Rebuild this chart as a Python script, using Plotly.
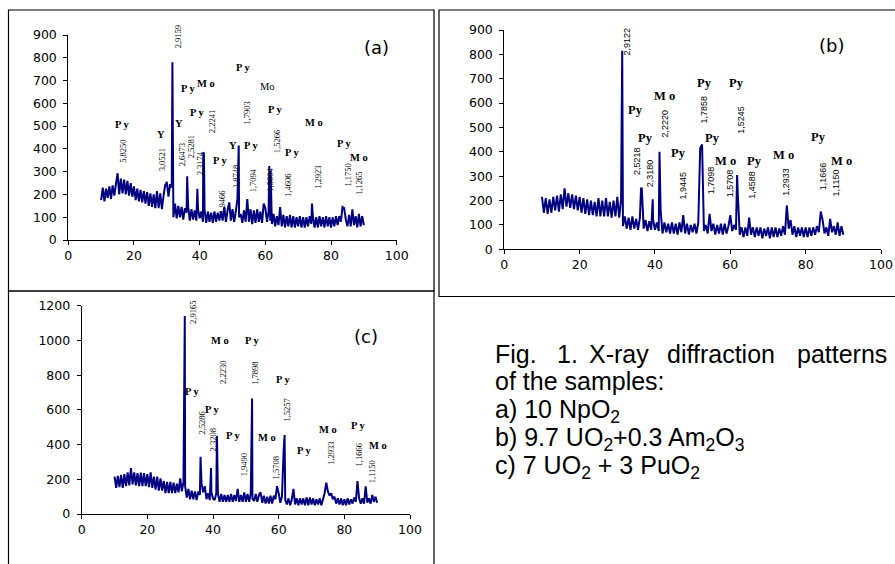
import plotly.graph_objects as go

# ---------------- data ----------------
two_theta_grid = [10 + 0.5 * i for i in range(161)]  # 10 .. 90 deg, 0.5 step

a_intensity = [
    175, 230, 170, 225, 185, 235, 180, 240, 195, 245,
    293, 200, 270, 205, 265, 200, 260, 195, 250, 190,
    235, 175, 225, 170, 220, 165, 215, 160, 210, 150,
    205, 145, 200, 140, 215, 140, 205, 135, 195, 240,
    255, 190, 245, 230, 100, 160, 95, 150, 100, 145,
    90, 140, 120, 145, 85, 135, 90, 130, 85, 135,
    95, 125, 80, 130, 75, 125, 80, 120, 75, 125,
    80, 120, 85, 125, 85, 145, 80, 130, 165, 85,
    135, 80, 125, 180, 100, 115, 75, 130, 80, 180,
    80, 135, 70, 130, 75, 135, 80, 125, 75, 160,
    140, 80, 125, 85, 70, 115, 60, 105, 65, 145,
    60, 110, 55, 105, 60, 110, 55, 105, 55, 100,
    60, 105, 55, 100, 55, 100, 60, 105, 70, 100,
    55, 100, 55, 105, 60, 100, 55, 105, 60, 100,
    55, 100, 60, 105, 65, 105, 80, 145, 140, 90,
    60, 110, 60, 135, 65, 105, 55, 115, 60, 105, 65,
]
a_peak_pos = [31.7, 36.2, 39.3, 41.1, 41.3, 51.9, 61.2, 61.6, 74.2]
a_peak_int = [780, 280, 225, 385, 380, 415, 325, 305, 160]

b_intensity = [
    215, 150, 210, 145, 205, 150, 215, 160, 220, 155,
    225, 165, 250, 175, 230, 170, 225, 165, 220, 160,
    215, 150, 210, 145, 205, 140, 200, 140, 195, 135,
    210, 135, 200, 135, 210, 135, 195, 130, 200, 135,
    215, 130, 205, 95, 135, 85, 130, 80, 135, 85,
    125, 80, 130, 250, 85, 120, 75, 115, 80, 120,
    80, 110, 75, 160, 65, 110, 70, 105, 65, 110,
    65, 105, 60, 110, 70, 140, 65, 105, 60, 100,
    70, 105, 65, 110, 415, 430, 75, 100, 65, 145,
    75, 105, 60, 100, 65, 105, 60, 105, 65, 95,
    140, 75, 100, 80, 220, 60, 90, 50, 90, 55,
    130, 60, 90, 50, 90, 55, 90, 45, 85, 55,
    90, 45, 90, 50, 90, 50, 85, 55, 95, 60,
    180, 85, 120, 60, 95, 50, 90, 55, 90, 50,
    90, 50, 90, 55, 90, 60, 95, 70, 155, 120,
    65, 90, 55, 125, 70, 95, 60, 110, 55, 95, 60,
]
b_peak_pos = [31.3, 36.3, 39.4, 41.2, 61.8]
b_peak_int = [815, 250, 205, 400, 305]

c_intensity = [
    215, 150, 220, 155, 225, 150, 230, 160, 240, 165,
    265, 170, 240, 165, 235, 160, 238, 160, 235, 160,
    230, 155, 240, 150, 215, 140, 215, 135, 205, 135,
    190, 120, 185, 120, 185, 120, 180, 120, 175, 125,
    205, 130, 185, 160, 95, 145, 85, 135, 85, 130,
    80, 130, 110, 175, 125, 160, 85, 120, 80, 125,
    90, 80, 120, 115, 70, 115, 70, 110, 70, 110,
    70, 115, 70, 110, 75, 145, 70, 110, 70, 125,
    70, 115, 70, 120, 90, 75, 115, 70, 110, 125,
    65, 105, 60, 100, 60, 105, 60, 105, 85, 160,
    120, 65, 100, 360, 80, 55, 90, 50, 85, 145,
    55, 90, 50, 90, 55, 90, 50, 95, 50, 95,
    55, 90, 50, 85, 55, 90, 50, 85, 120, 180,
    130, 105, 120, 85, 100, 60, 90, 55, 90, 50,
    85, 50, 90, 55, 85, 60, 95, 70, 190, 90,
    60, 90, 60, 160, 65, 90, 60, 110, 70, 100, 65,
]
c_peak_pos = [31.4, 36.2, 39.4, 41.2, 51.9, 61.8]
c_peak_int = [1140, 330, 265, 450, 665, 455]

x_ticks = [0, 20, 40, 60, 80, 100]

a_phase = [("P y", 16.5, 509), ("Y", 28.3, 465), ("P y", 28.8, 935), ("Y", 33.6, 513),
           ("P y", 36.4, 667), ("M o", 41.8, 689), ("P y", 39.2, 558), ("P y", 46.3, 347),
           ("Y", 50.1, 413), ("P y", 53.2, 759), ("P y", 55.7, 417), ("P y", 62.8, 575),
           ("P y", 68.0, 386), ("M o", 74.8, 518), ("P y", 83.9, 425), ("M o", 88.5, 364)]
a_phase_plain = [("Mo", 60.6, 676)]
a_dspacing = [("5,8250", 16.6, 391), ("3,0521", 28.6, 351), ("2,9159", 33.5, 891),
              ("2,6473", 34.7, 373), ("2,5281", 37.2, 409), ("2,3174", 40.2, 338),
              ("2,2241", 43.8, 518), ("1,9466", 46.8, 167), ("1,8748", 51.1, 277),
              ("1,7903", 54.6, 557), ("1,7094", 56.3, 263), ("1,5604", 61.3, 263),
              ("1,5266", 63.6, 430), ("1,4606", 66.8, 241), ("1,2923", 76.0, 277),
              ("1,1750", 85.3, 285), ("1,1265", 88.5, 250)]

b_phase = [("Py", 35.8, 925), ("Py", 34.9, 572), ("Py", 37.6, 455), ("M o", 42.5, 629),
           ("Py", 46.2, 396), ("Py", 53.1, 684), ("Py", 55.3, 455), ("M o", 58.6, 362),
           ("Py", 61.7, 684), ("Py", 66.3, 362), ("M o", 74.1, 387), ("Py", 83.5, 462),
           ("M o", 89.6, 362)]
b_dspacing = [("2,9122", 32.5, 852), ("2,5218", 35.2, 362), ("2,3180", 38.7, 312),
              ("2,2220", 42.7, 517), ("1,9445", 47.3, 264), ("1,7858", 53.1, 575),
              ("1,7098", 54.9, 284), ("1,5708", 59.9, 271), ("1,5245", 62.8, 531),
              ("1,4588", 65.7, 264), ("1,2933", 74.8, 277), ("1,1666", 84.7, 301),
              ("1,1150", 88.1, 271)]

c_phase = [("P y", 27.7, 1210), ("M o", 42.1, 998), ("P y", 52.0, 998), ("P y", 33.5, 704),
           ("P y", 39.6, 603), ("P y", 46.2, 455), ("P y", 61.2, 776), ("M o", 56.4, 442),
           ("P y", 67.7, 363), ("M o", 75.1, 488), ("P y", 84.3, 507), ("M o", 90.2, 394)]
c_dspacing = [("2,9165", 33.7, 1160), ("2,2230", 43.1, 814), ("1,7898", 52.9, 810),
              ("2,5286", 36.7, 522), ("2,3208", 40.1, 426), ("1,9490", 49.5, 282),
              ("1,5257", 62.4, 599), ("1,5708", 59.2, 263), ("1,2933", 76.1, 349),
              ("1,1666", 84.6, 340), ("1,1150", 88.3, 244)]

caption_words = ["Fig.", "1.", "X-ray", "diffraction", "patterns"]
caption_lines = ["of the samples:", "a) 10 NpO<sub>2</sub>",
                 "b) 9.7 UO<sub>2</sub>+0.3 Am<sub>2</sub>O<sub>3</sub>",
                 "c) 7 UO<sub>2</sub> + 3 PuO<sub>2</sub>"]

# ---------------- figure ----------------
W, H = 895, 564
def px(x): return x / W
def py(y): return 1 - y / H

def merge(gx, gy, pxs, pys):
    pts = sorted(zip(list(gx) + list(pxs), list(gy) + list(pys)), key=lambda p: p[0])
    return [p[0] for p in pts], [p[1] for p in pts]

LINE = dict(color="#000080", width=2, simplify=False)
fig = go.Figure()
for (yy, ppos, pint, xa, ya) in [(a_intensity, a_peak_pos, a_peak_int, "x", "y"),
                                 (b_intensity, b_peak_pos, b_peak_int, "x2", "y2"),
                                 (c_intensity, c_peak_pos, c_peak_int, "x3", "y3")]:
    xs, ys = merge(two_theta_grid, yy, ppos, pint)
    fig.add_trace(go.Scatter(x=xs, y=ys, mode="lines", line=LINE, xaxis=xa, yaxis=ya,
                             showlegend=False, hoverinfo="skip"))

TICKFONT = dict(family="DejaVu Sans", size=12.5, color="black")
def axstyle(**kw):
    d = dict(showline=True, linecolor="black", linewidth=1, ticks="outside", ticklen=4,
             tickcolor="black", showgrid=False, zeroline=False, tickfont=TICKFONT,
             fixedrange=True, automargin=False)
    d.update(kw)
    return d

fig.update_layout(
    width=W, height=H, margin=dict(l=0, r=0, t=0, b=0, pad=0), autosize=False,
    paper_bgcolor="white", plot_bgcolor="rgba(0,0,0,0)", showlegend=False,
    xaxis=axstyle(domain=[px(68.3), px(396.7)], range=[0, 100], tickvals=x_ticks, anchor="y"),
    yaxis=axstyle(domain=[py(240), py(35)], range=[0, 900], dtick=100, anchor="x",
                  ticklabelstandoff=4),
    xaxis2=axstyle(domain=[px(504.3), px(881)], range=[0, 100], tickvals=x_ticks, anchor="y2"),
    yaxis2=axstyle(domain=[py(249.3), py(30)], range=[0, 900], dtick=100, anchor="x2",
                   ticklabelstandoff=4),
    xaxis3=axstyle(domain=[px(81.7), px(410)], range=[0, 100], tickvals=x_ticks, anchor="y3"),
    yaxis3=axstyle(domain=[py(514), py(305.7)], range=[0, 1200], dtick=200, anchor="x3",
                   ticklabelstandoff=4),
)

# panel frames
for x0, y0, x1, y1 in [(8.5, 10, 434, 291), (8.5, 291, 434, 580), (439, 10, 910, 296.5)]:
    fig.add_shape(type="rect", xref="paper", yref="paper", x0=px(x0), x1=px(x1),
                  y0=py(y1), y1=py(y0), line=dict(color="black", width=1.2),
                  fillcolor="rgba(0,0,0,0)", layer="below")

ann = []
SERIF = "Liberation Serif"
SANS = "Liberation Sans"
def add_labels(phase, dsp, xr, yr, phase_font, dfont, plain=()):
    for t, x, y in phase:
        ann.append(dict(text="<b>%s</b>" % t, x=x, y=y, xref=xr, yref=yr, showarrow=False,
                        xanchor="center", yanchor="middle", font=phase_font))
    for t, x, y in plain:
        ann.append(dict(text=t, x=x, y=y, xref=xr, yref=yr, showarrow=False,
                        xanchor="center", yanchor="middle", font=phase_font))
    for t, x, y in dsp:
        ann.append(dict(text=t, x=x, y=y, xref=xr, yref=yr, showarrow=False, textangle=-90,
                        xanchor="center", yanchor="middle", font=dfont))

add_labels(a_phase, a_dspacing, "x", "y", dict(family=SERIF, size=10.5, color="black"),
           dict(family=SERIF, size=8.5, color="black"), a_phase_plain)
add_labels(b_phase, b_dspacing, "x2", "y2", dict(family=SERIF, size=12.5, color="black"),
           dict(family=SANS, size=9, color="black"))
add_labels(c_phase, c_dspacing, "x3", "y3", dict(family=SERIF, size=10.5, color="black"),
           dict(family=SERIF, size=8.5, color="black"))

PLAB = dict(family="DejaVu Sans", size=18, color="black")
ann.append(dict(text="(a)", x=93.8, y=847, xref="x", yref="y", showarrow=False, font=PLAB))
ann.append(dict(text="(b)", x=86.9, y=836, xref="x2", yref="y2", showarrow=False, font=PLAB))
ann.append(dict(text="(c)", x=86.5, y=1021, xref="x3", yref="y3", showarrow=False, font=PLAB))

CAP = dict(family=SANS, size=25, color="black")
word_left = [492.7, 555, 586.7, 665]
for w, xl in zip(caption_words[:4], word_left):
    ann.append(dict(text=w, x=px(xl), y=py(354), xref="paper", yref="paper", showarrow=False,
                    xanchor="left", yanchor="middle", font=CAP))
ann.append(dict(text=caption_words[4], x=px(889), y=py(354), xref="paper", yref="paper",
                showarrow=False, xanchor="right", yanchor="middle", font=CAP))
for line, yc in zip(caption_lines, [381, 411, 439, 467]):
    ann.append(dict(text=line, x=px(492.7), y=py(yc), xref="paper", yref="paper",
                    showarrow=False, xanchor="left", yanchor="middle", font=CAP))

fig.update_layout(annotations=ann)
fig.write_html("out.html", config={"displayModeBar": False},
               post_script="document.body.style.margin='0';document.body.style.overflow='hidden';")
